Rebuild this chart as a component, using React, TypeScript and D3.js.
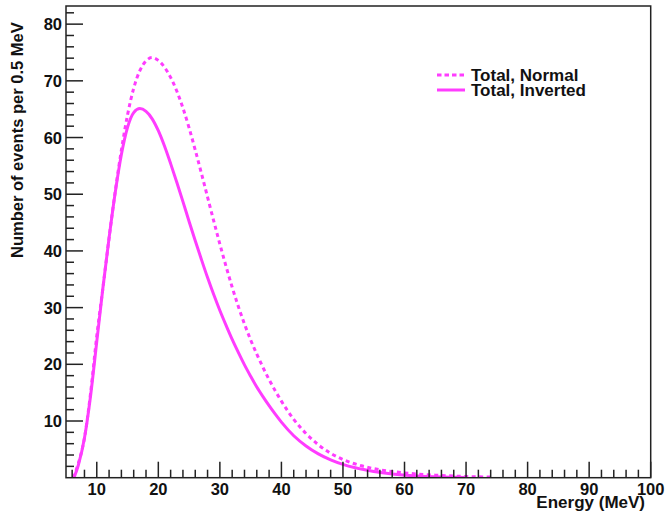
import React from "react";
import * as d3 from "d3";

const W = 666;
const H = 512;

// Energy (MeV) and events per 0.5 MeV
const invertedE = [6.3, 7, 8, 9, 10, 11, 12, 13, 14, 15, 16, 17, 18, 19, 20, 21, 22, 23, 24, 25, 26, 27, 28, 29, 30, 31, 32, 33, 34, 35, 36, 37, 38, 39, 40, 42, 44, 46, 48, 50, 52, 55, 58, 62, 66, 70];
const invertedV = [0, 2.2, 7, 14.5, 24, 33.5, 42.3, 50.3, 57, 61.8, 64.4, 65.1, 64.6, 63.3, 61.2, 58.5, 55.4, 52.1, 48.7, 45.2, 41.8, 38.5, 35.3, 32.3, 29.5, 26.9, 24.4, 22.1, 19.9, 17.9, 16.0, 14.3, 12.7, 11.2, 9.8, 7.4, 5.6, 4.2, 3.15, 2.35, 1.75, 1.1, 0.65, 0.3, 0.13, 0.05];

const normalE = [6.2, 7, 8, 9, 10, 11, 12, 13, 14, 15, 16, 17, 18, 19, 20, 21, 22, 23, 24, 25, 26, 27, 28, 29, 30, 31, 32, 33, 34, 35, 36, 38, 40, 42, 44, 46, 48, 50, 53, 56, 60, 65, 70, 74.4];
const normalV = [0, 2.5, 7, 15, 25, 33.5, 42.3, 50.5, 57.8, 64, 68.7, 71.8, 73.5, 74.1, 73.6, 72.4, 70.6, 68.2, 65.2, 61.7, 57.8, 53.7, 49.5, 45.3, 41.2, 37.3, 33.6, 30.2, 27.1, 24.3, 21.8, 17.3, 13.5, 10.3, 7.8, 5.8, 4.3, 3.2, 2.1, 1.4, 0.85, 0.45, 0.22, 0.1];

const xMajor = [10, 20, 30, 40, 50, 60, 70, 80, 90, 100];
const yMajor = [10, 20, 30, 40, 50, 60, 70, 80];
const legendLabels = ["Total, Normal", "Total, Inverted"];

const COLOR = "#ff3cff";
const FONT = "'Liberation Sans', Arial, Helvetica, sans-serif";

const left = 66, right = 650.7, top = 6, bottom = 477.7;

export default function App() {
  const x = d3.scaleLinear().domain([5, 100]).range([left, right]);
  const y = d3.scaleLinear().domain([0, 83.2]).range([bottom, top]);

  const line = d3
    .line<[number, number]>()
    .x((d) => x(d[0]))
    .y((d) => y(d[1]))
    .curve(d3.curveMonotoneX);

  const inv: [number, number][] = invertedE.map((e, i) => [e, invertedV[i]]);
  const nor: [number, number][] = normalE.map((e, i) => [e, normalV[i]]);

  const xMinor = d3.range(6, 100, 2).filter((v) => v % 10 !== 0);
  const yMinor = d3.range(2, 83, 2).filter((v) => v % 10 !== 0);

  return (
    <svg width={W} height={H} style={{ position: "absolute", left: 0, top: 0 }} fontFamily={FONT}>
      <rect x={0} y={0} width={W} height={H} fill="white" />
      <defs>
        <clipPath id="plotclip">
          <rect x={left} y={top} width={right - left} height={bottom - top} />
        </clipPath>
      </defs>
      <g clipPath="url(#plotclip)">
        <path d={line(nor) || ""} fill="none" stroke={COLOR} strokeWidth={3} strokeDasharray="4 3.5" />
        <path d={line(inv) || ""} fill="none" stroke={COLOR} strokeWidth={3} />
      </g>
      {/* frame */}
      <rect x={left} y={top} width={right - left} height={bottom - top} fill="none" stroke="#222" strokeWidth={1.5} />
      {/* x ticks */}
      {xMajor.map((v) => (
        <line key={"xm" + v} x1={x(v)} x2={x(v)} y1={bottom} y2={bottom - 16} stroke="#222" strokeWidth={1.5} />
      ))}
      {xMinor.map((v) => (
        <line key={"xn" + v} x1={x(v)} x2={x(v)} y1={bottom} y2={bottom - 8} stroke="#222" strokeWidth={1.5} />
      ))}
      {xMajor.map((v) => (
        <text key={"xl" + v} x={x(v)} y={495} textAnchor="middle" fontSize={16.5} fontWeight="bold" fill="#111">
          {v}
        </text>
      ))}
      {/* y ticks */}
      {yMajor.map((v) => (
        <line key={"ym" + v} x1={left} x2={left + 17} y1={y(v)} y2={y(v)} stroke="#222" strokeWidth={1.5} />
      ))}
      {yMinor.map((v) => (
        <line key={"yn" + v} x1={left} x2={left + 8} y1={y(v)} y2={y(v)} stroke="#222" strokeWidth={1.5} />
      ))}
      {yMajor.map((v) => (
        <text key={"yl" + v} x={62} y={y(v) + 6} textAnchor="end" fontSize={16.5} fontWeight="bold" fill="#111">
          {v}
        </text>
      ))}
      {/* axis titles */}
      <text x={645} y={508} textAnchor="end" fontSize={17} fontWeight="bold" fill="#111">
        Energy (MeV)
      </text>
      <text
        transform={`translate(23,258) rotate(-90)`}
        textAnchor="start"
        fontSize={16.5}
        fontWeight="bold"
        fill="#111"
      >
        Number of events per 0.5 MeV
      </text>
      {/* legend */}
      <line x1={437} x2={465} y1={75} y2={75} stroke={COLOR} strokeWidth={3} strokeDasharray="4.5 3" />
      <text x={471} y={80.5} fontSize={17} fontWeight="bold" fill="#111">
        {legendLabels[0]}
      </text>
      <line x1={437} x2={465} y1={90} y2={90} stroke={COLOR} strokeWidth={3} />
      <text x={471} y={96} fontSize={17} fontWeight="bold" fill="#111">
        {legendLabels[1]}
      </text>
    </svg>
  );
}
